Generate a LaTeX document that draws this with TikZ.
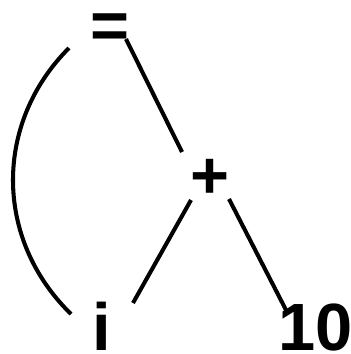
\documentclass[tikz,border=0pt]{standalone}
\usepackage{fontspec}
\setmainfont{Liberation Sans}
\usepackage{tikz}
\definecolor{astink}{HTML}{000000}
\tikzset{
  astnode/.style={rectangle, inner sep=0pt, text height=13.7pt, text depth=0pt,
                  font=\fontsize{19}{19}\selectfont\bfseries, text=astink},
  astedge/.style={line width=1.15pt, draw=astink},
}
\begin{document}
\begin{tikzpicture}[x=0.01cm, y=-0.01cm]
  \useasboundingbox (0,0) rectangle (351,354);
  \node[astnode] (eq)   at (110,24)    {=};
  \node[astnode] (plus) at (210,174)   {+};
  \node[astnode] (i)    at (102,326)   {i};
  \node[astnode] (ten)  at (315.5,326) {10};
  \draw[astedge] ([shift={(16,15)}]eq.center) -- ([shift={(-28,-22)}]plus.center);
  \draw[astedge] ([shift={(-19,26)}]plus.center) -- ([shift={(31,-23)}]i.center);
  \draw[astedge] ([shift={(19,25)}]plus.center) -- ([shift={(-29.5,-16)}]ten.center);
  \draw[astedge] ([shift={(-41,24)}]eq.center)
    .. controls +(-75,75) and +(-77,-75) .. ([shift={(-31,-12)}]i.center);
\end{tikzpicture}
\end{document}
